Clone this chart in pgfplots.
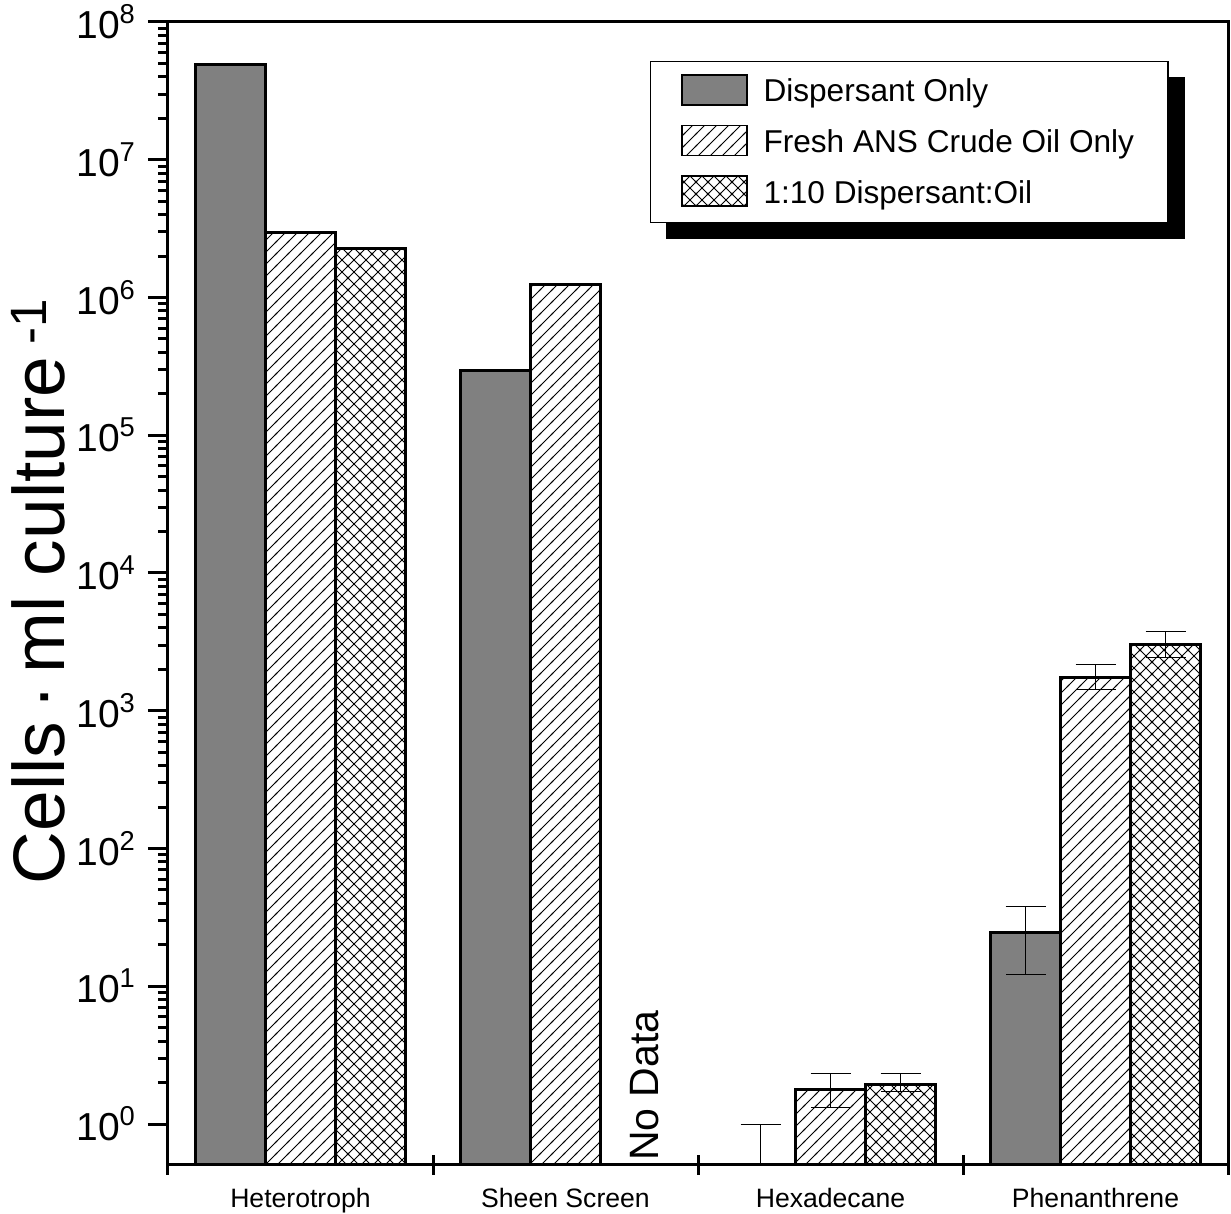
\documentclass[border=0pt]{standalone}
\usepackage{fontspec}
\setmainfont{Liberation Sans}
\usepackage{pgfplots}
\pgfplotsset{compat=1.18}
\usepackage{pgfplotstable}
\usetikzlibrary{patterns}
\pgfdeclarelayer{bg}
\pgfsetlayers{bg,main}

\pgfdeclarepatternformonly{hatchA}{\pgfqpoint{-1pt}{-1pt}}{\pgfqpoint{7pt}{7pt}}{\pgfqpoint{6pt}{6pt}}{%
  \pgfsetlinewidth{0.45pt}%
  \pgfpathmoveto{\pgfqpoint{-0.5pt}{-0.5pt}}\pgfpathlineto{\pgfqpoint{6.5pt}{6.5pt}}\pgfusepath{stroke}}
\pgfdeclarepatternformonly{hatchX}{\pgfqpoint{-1pt}{-1pt}}{\pgfqpoint{7pt}{7pt}}{\pgfqpoint{6pt}{6pt}}{%
  \pgfsetlinewidth{0.45pt}%
  \pgfpathmoveto{\pgfqpoint{-0.5pt}{-0.5pt}}\pgfpathlineto{\pgfqpoint{6.5pt}{6.5pt}}%
  \pgfpathmoveto{\pgfqpoint{-0.5pt}{6.5pt}}\pgfpathlineto{\pgfqpoint{6.5pt}{-0.5pt}}\pgfusepath{stroke}}

\definecolor{darkbar}{HTML}{808080}

% x y eplus eminus
\pgfplotstableread{
x y ep em
1 4.88e7 0 0
2 2.93e5 0 0
3 0.3 0.7 0
4 24.6 13.6 12.5
}\dispersant
\pgfplotstableread{
x y ep em
1 2.94e6 0 0
2 1.25e6 0 0
3 1.77 0.54 0.46
4 1738 446 316
}\crude
\pgfplotstableread{
x y ep em
1 2.25e6 0 0
3 1.95 0.36 0.22
4 3035 715 591
}\mix

\begin{document}
\begin{tikzpicture}
\begin{axis}[
  name=ax,
  scale only axis,
  width=530pt, height=571.5pt,
  ymode=log,
  log origin y=infty,
  ymin=0.504, ymax=1e8,
  xmin=0.5, xmax=4.5,
  ybar=0pt,
  bar width=35pt,
  axis line style={line width=1.5pt},
  every tick/.style={black, line width=1.5pt},
  major tick length=10pt,
  minor tick length=5pt,
  tick pos=left,
  ytick align=outside,
  xtick align=center,
  ytick={1,10,100,1000,10000,100000,1000000,10000000,100000000},
  yticklabels={10\textsuperscript{0},10\textsuperscript{1},10\textsuperscript{2},10\textsuperscript{3},10\textsuperscript{4},10\textsuperscript{5},10\textsuperscript{6},10\textsuperscript{7},10\textsuperscript{8}},
  yticklabel style={font=\fontsize{19.5}{21}\selectfont, xshift=-2.5pt},
  xtick={0.5,1.5,2.5,3.5,4.5},
  x tick label as interval,
  xticklabels={Heterotroph,Sheen Screen,Hexadecane,Phenanthrene},
  xticklabel style={font=\fontsize{13.3}{15}\selectfont, yshift=-3pt},
  every axis y label/.style={at={(axis description cs:-0.1226,0.502)}, rotate=90, anchor=center},
  ylabel={\fontsize{36.5}{40}\selectfont Cells\,·\,ml culture\,\textsuperscript{-1}},
  legend style={at={(axis description cs:0.4547,0.9659)}, anchor=north west,
    name=leg,
    draw=black, line width=0.75pt, fill=white,
    inner xsep=15pt, inner ysep=6pt, row sep=8pt,
    font=\fontsize{15.8}{18}\selectfont,
    /tikz/every odd column/.append style={column sep=6pt}},
  legend cell align=left,
  legend image code/.code={\draw[#1, line width=0.9pt] (0pt,-6.5pt) rectangle (32.5pt,8.5pt);},
  error bars/y dir=both,
  error bars/y explicit,
  error bars/error bar style={line width=0.5pt, black},
  error bars/error mark options={rotate=90, mark size=10pt, line width=0.5pt, black},
  clip=true,
]
\addplot[draw=black, line width=1.5pt, fill=darkbar]
  table[x=x, y=y, y error plus=ep, y error minus=em] {\dispersant};
\addlegendentry{Dispersant Only}
\addplot[draw=black, line width=1.5pt, fill=white, postaction={pattern=hatchA}]
  table[x=x, y=y, y error plus=ep, y error minus=em] {\crude};
\addlegendentry{Fresh ANS Crude Oil Only}
\addplot[draw=black, line width=1.5pt, fill=white, postaction={pattern=hatchX}]
  table[x=x, y=y, y error plus=ep, y error minus=em] {\mix};
\addlegendentry{1:10 Dispersant:Oil}
\node[rotate=90, anchor=center, font=\fontsize{20.5}{22}\selectfont] at (axis cs:2.3,1.9) {No Data};
\end{axis}
\begin{pgfonlayer}{bg}
\fill[black] ([shift={(8pt,-8pt)}]leg.south west) rectangle ([shift={(8pt,-8pt)}]leg.north east);
\end{pgfonlayer}
\pgfresetboundingbox
\path[use as bounding box] ([shift={(-84pt,-24.5pt)}]ax.south west) rectangle ([shift={(1.5pt,11pt)}]ax.north east);
\end{tikzpicture}
\end{document}
